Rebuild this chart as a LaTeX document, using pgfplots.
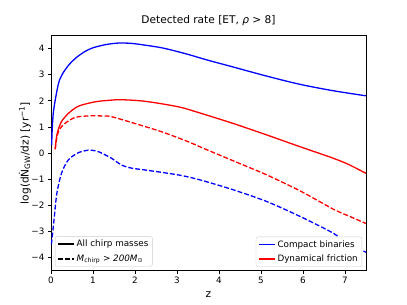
\documentclass[border=0pt]{standalone}
\usepackage{pgfplots}
\pgfplotsset{compat=1.18}
\usepackage{fontspec}
\setmainfont{DejaVu Sans}
\newcommand{\tickfont}{\fontsize{8.8}{10.5}\selectfont}
\newcommand{\labfont}{\fontsize{10.6}{12.5}\selectfont}
\pgfplotsset{
  common/.style={
    width=315pt, height=235pt, scale only axis,
    xmin=0, xmax=7.5, ymin=-4.5, ymax=4.5,
    legend style={draw=black!20, rounded corners=2pt, fill=white,
      font=\tickfont, inner xsep=2pt, inner ysep=1.5pt, row sep=2.5pt},
    legend cell align=left,
  }
}
\begin{document}
\begin{tikzpicture}
\useasboundingbox (-51pt,-34.5pt) rectangle (356pt,270.5pt);
\begin{axis}[common,
  axis line style={line width=0.7pt},
  tick align=outside, major tick length=3.1pt,
  xtick pos=bottom, ytick pos=left,
  tick style={line width=0.7pt, black},
  xtick={0,1,2,3,4,5,6,7},
  ytick={-4,-3,-2,-1,0,1,2,3,4},
  yticklabels={−4,−3,−2,−1,0,1,2,3,4},
  xticklabel style={font=\tickfont},
  yticklabel style={font=\tickfont},
  /pgf/number format/assume math mode=true,
  title={Detected rate [ET, \textit{ρ} > 8]},
  title style={font=\labfont, at={(axis description cs:0.5,1.0264)}, anchor=base},
  xlabel={z},
  xlabel style={font=\labfont, at={(axis description cs:0.5,-0.117)}, anchor=base},
  ylabel={log(d\.{N}\textsubscript{GW}/dz) [yr\textsuperscript{−1}]},
  ylabel style={font=\labfont, at={(axis description cs:-0.0714,0.5)}, anchor=base, rotate=0},
  legend style={at={(axis description cs:0,0)}, anchor=south west, xshift=4pt, yshift=4pt},
  legend image code/.code={\draw[#1] (0pt,0pt) -- (16pt,0pt);},
]
% Compact binaries, all chirp masses
\addplot[blue, line width=1.3pt, smooth, tension=0.5, forget plot] coordinates {
(0.015,0.3) (0.03,0.95) (0.05,1.45) (0.07,1.72) (0.1,2.02) (0.15,2.45) (0.2,2.78) (0.3,3.1) (0.45,3.42)
(0.6,3.65) (0.8,3.88) (1.0,4.03) (1.3,4.15) (1.6,4.21) (1.9,4.2) (2.2,4.14) (2.6,4.04) (2.9,3.93)
(3.3,3.76) (3.7,3.57) (4.3,3.31) (5.1,2.96) (5.9,2.64) (6.7,2.39) (7.5,2.19)};
% Dynamical friction, all chirp masses
\addplot[red, line width=1.3pt, smooth, tension=0.5, forget plot] coordinates {
(0.1,0.15) (0.13,0.6) (0.17,0.88) (0.25,1.2) (0.41,1.51) (0.65,1.79) (1.05,1.96) (1.4,2.02)
(1.68,2.04) (2.24,1.98) (3.03,1.77) (3.55,1.53) (4.34,1.13) (5.14,0.69) (5.93,0.24) (6.72,-0.2)
(7.1,-0.45) (7.5,-0.78)};
% Dynamical friction, M > 200
\addplot[red, line width=1.3pt, dash pattern=on 4.9pt off 2.1pt, smooth, tension=0.5, forget plot] coordinates {
(0.1,0.14) (0.14,0.6) (0.2,0.9) (0.33,1.13) (0.57,1.36) (0.89,1.42) (1.2,1.42) (1.44,1.39)
(2.0,1.13) (2.64,0.81) (3.27,0.43) (3.6,0.2) (4.34,-0.3) (4.82,-0.62) (5.14,-0.84) (5.93,-1.45)
(6.72,-2.15) (7.1,-2.42) (7.5,-2.7)};
% Compact binaries, M > 200
\addplot[blue, line width=1.3pt, dash pattern=on 4.9pt off 2.1pt, smooth, tension=0.5, forget plot] coordinates {
(0.01,-3.5) (0.05,-2.9) (0.08,-2.43) (0.14,-1.54) (0.25,-0.78) (0.41,-0.27) (0.65,0.01) (0.89,0.11)
(1.0,0.1) (1.13,0.05) (1.3,-0.08) (1.44,-0.2) (1.68,-0.46) (1.92,-0.58) (2.24,-0.65) (3.03,-0.84)
(3.55,-1.03) (4.34,-1.41) (5.14,-1.86) (5.93,-2.43) (6.72,-3.07) (6.96,-3.38) (7.5,-3.8)};
\addlegendimage{color=black, line width=1.5pt, solid}
\addlegendentry{All chirp masses}
\addlegendimage{color=black, line width=1.5pt, dash pattern=on 4.9pt off 2.1pt}
\addlegendentry{\textit{M}\textsubscript{chirp} > \textit{200M}\textsubscript{⊙}}
\end{axis}
\begin{axis}[common, hide axis,
  legend style={at={(axis description cs:1,0)}, anchor=south east, xshift=-4pt, yshift=3.5pt},
  legend image code/.code={\draw[#1] (0pt,0pt) -- (16pt,0pt);},
]
\addlegendimage{color=blue, line width=1.5pt, solid}
\addlegendentry{Compact binaries}
\addlegendimage{color=red, line width=1.5pt, solid}
\addlegendentry{Dynamical friction}
\end{axis}
\end{tikzpicture}
\end{document}
